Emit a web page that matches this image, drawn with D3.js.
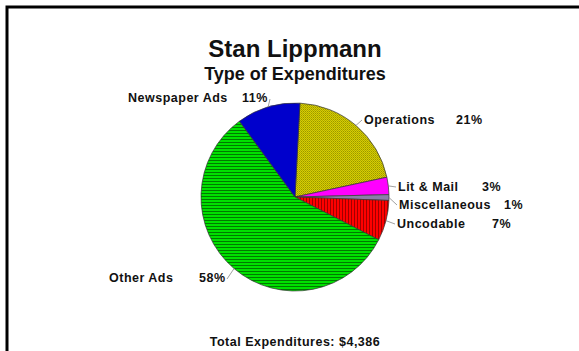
<!DOCTYPE html>
<html><head><meta charset="utf-8">
<script src="https://cdn.jsdelivr.net/npm/d3@7"></script>
<style>
html,body{margin:0;padding:0;background:#fff;}
svg{display:block;}
text{font-family:Arial,"Liberation Sans",sans-serif;font-weight:bold;fill:#111;}
</style></head>
<body><svg id="c" width="579" height="351"></svg>
<script>
const categories = ["Operations","Lit & Mail","Miscellaneous","Uncodable","Other Ads","Newspaper Ads"];
const percents = [21,3,1,7,58,11];
const pctLabels = ["21%","3%","1%","7%","58%","11%"];
const title = "Stan Lippmann";
const subtitle = "Type of Expenditures";
const footer = "Total Expenditures: $4,386";

// layout (not data)
const fills = ["url(#pOps)","#ff00ff","#8a7fa8","url(#pRed)","url(#pGreen)","#0000cc"];
const labelLayout = [
  {nx:364, px:456, y:124, side:"r"},
  {nx:398, px:482, y:191, side:"r"},
  {nx:399, px:504, y:209, side:"r"},
  {nx:397, px:492, y:228, side:"r"},
  {nx:109, px:199, y:282, side:"l"},
  {nx:128, px:242, y:102, side:"l"}
];

const svg = d3.select("#c");
const defs = svg.append("defs");
const pg = defs.append("pattern").attr("id","pGreen").attr("patternUnits","userSpaceOnUse").attr("width",6).attr("height",3);
pg.append("rect").attr("width",6).attr("height",3).attr("fill","#00e000");
pg.append("rect").attr("y",2).attr("width",6).attr("height",1).attr("fill","#007a00");
const pr = defs.append("pattern").attr("id","pRed").attr("patternUnits","userSpaceOnUse").attr("width",3).attr("height",6);
pr.append("rect").attr("width",3).attr("height",6).attr("fill","#ff0000");
pr.append("rect").attr("x",2).attr("width",1).attr("height",6).attr("fill","#a00000");
const po = defs.append("pattern").attr("id","pOps").attr("patternUnits","userSpaceOnUse").attr("width",2).attr("height",2);
po.append("rect").attr("width",2).attr("height",2).attr("fill","#d8d000");
po.append("rect").attr("x",0).attr("y",0).attr("width",1).attr("height",1).attr("fill","#9a9400");
po.append("rect").attr("x",1).attr("y",1).attr("width",1).attr("height",1).attr("fill","#b0a800");

svg.append("rect").attr("x",7).attr("y",7).attr("width",700).attr("height",500)
  .attr("fill","none").attr("stroke","#000").attr("stroke-width",3);

svg.append("text").attr("x",295).attr("y",57).attr("text-anchor","middle").style("font-size","24px").text(title);
svg.append("text").attr("x",295).attr("y",80).attr("text-anchor","middle").style("font-size","18px").text(subtitle);

const cx = 295, cy = 197, r = 94;
const start = 3*Math.PI/180;
const pie = d3.pie().sort(null).value(d=>d).startAngle(start).endAngle(start+2*Math.PI);
const arcs = pie(percents);
const arc = d3.arc().innerRadius(0).outerRadius(r);
const g = svg.append("g").attr("transform",`translate(${cx},${cy})`);
g.selectAll("path").data(arcs).join("path")
  .attr("d",arc).attr("fill",(d,i)=>fills[i])
  .attr("stroke","#333").attr("stroke-width",0.7);

const outer = d3.arc().innerRadius(r).outerRadius(r);
arcs.forEach((d,i)=>{
  const L = labelLayout[i];
  const c = outer.centroid(d);
  const sx = cx + c[0], sy = cy + c[1];
  let ex, ey;
  if (L.side === "r") { ex = L.nx - 2; ey = L.y - 4; }
  else { ex = L.px + 28; ey = L.y - 3; }
  svg.append("line").attr("x1",sx).attr("y1",sy).attr("x2",ex).attr("y2",ey)
    .attr("stroke","#888").attr("stroke-width",0.8);
  svg.append("text").attr("x",L.nx).attr("y",L.y).style("font-size","12.5px").style("letter-spacing","0.5px").text(categories[i]);
  svg.append("text").attr("x",L.px).attr("y",L.y).style("font-size","12.5px").style("letter-spacing","0.5px").text(pctLabels[i]);
});

svg.append("text").attr("x",295).attr("y",346).attr("text-anchor","middle").style("font-size","12.5px").style("letter-spacing","0.5px").text(footer);
</script></body></html>
